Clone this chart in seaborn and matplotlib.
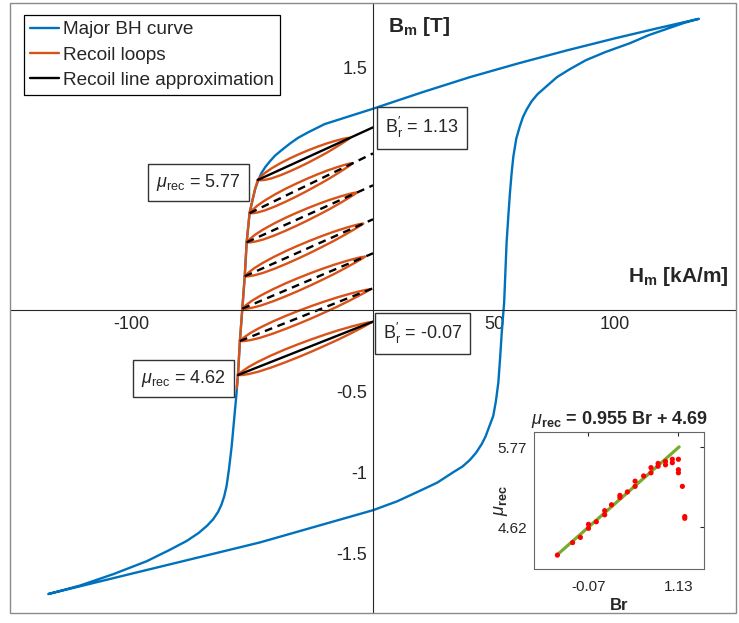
import numpy as np
import pandas as pd
import matplotlib
matplotlib.use("Agg")
import matplotlib.pyplot as plt
import seaborn as sns
from matplotlib.lines import Line2D
from matplotlib.patches import Rectangle

# ---------------- data ----------------
# Major BH curve, descending branch (from +saturation)
desc_H = [134.5, 117.0, 100.0, 80.0, 60.0, 40.0, 20.0, 0.0, -9.5, -20.0, -26.7, -31.0,
          -34.3, -37.7, -40.5, -42.6, -44.5, -46.2, -47.5, -48.7, -49.8, -51.0, -52.2,
          -53.0, -54.0, -55.0, -55.8, -56.5, -57.3, -58.4, -59.5, -60.5, -61.5, -62.6,
          -64.0, -66.0, -68.5, -72.0, -77.0, -84.0, -93.5, -107.3, -121.0, -134.2]
desc_B = [1.80, 1.74, 1.68, 1.605, 1.525, 1.44, 1.345, 1.245, 1.20, 1.15, 1.10, 1.065,
          1.03, 0.99, 0.955, 0.92, 0.885, 0.845, 0.80, 0.75, 0.68, 0.60, 0.42,
          0.21, 0.01, -0.19, -0.40, -0.53, -0.66, -0.84, -0.98, -1.085, -1.15, -1.20,
          -1.245, -1.29, -1.33, -1.375, -1.425, -1.48, -1.55, -1.63, -1.70, -1.753]
# Major BH curve, ascending branch (from -saturation)
asc_H = [-134.2, -100.0, -46.7, 0.0, 10.0, 19.4, 26.5, 33.2, 37.0, 40.0, 42.6, 44.9,
         46.5, 48.0, 49.7, 50.8, 51.8, 52.5, 53.2, 54.2, 55.2, 56.0, 56.6, 57.3, 58.0,
         59.2, 60.7, 62.0, 63.5, 65.5, 68.0, 71.8, 76.0, 81.4, 88.0, 96.0, 106.2, 114.0,
         122.7, 128.5, 134.5]
asc_B = [-1.753, -1.628, -1.434, -1.235, -1.18, -1.115, -1.065, -1.0, -0.965, -0.925,
         -0.88, -0.827, -0.78, -0.72, -0.652, -0.56, -0.446, -0.30, -0.138, 0.05, 0.418,
         0.60, 0.727, 0.85, 0.95, 1.06, 1.138, 1.195, 1.24, 1.29, 1.335, 1.385, 1.44,
         1.49, 1.545, 1.595, 1.65, 1.70, 1.745, 1.775, 1.80]

# Recoil loops: start point on the major curve, B at H=0 (B'r), loop tip H
loop_HL = [-47.6, -51.0, -52.2, -53.0, -54.0, -55.0, -55.8]
loop_BL = [0.805, 0.60, 0.42, 0.21, 0.01, -0.19, -0.40]
loop_Br = [1.13, 0.969, 0.772, 0.562, 0.352, 0.136, -0.07]
loop_Htip = [-9.5, -8.3, -6.6, -4.0, -3.3, -1.2, -0.5]
line_dashed = [False, True, True, True, True, True, False]
# lens profile of the loops (fraction along loop, upper / lower offsets in T)
prof_t = [0, 0.03, 0.08, 0.15, 0.25, 0.35, 0.45, 0.55, 0.65, 0.75, 0.85, 0.92, 0.97, 1.0]
prof_up = [0, 0.012, 0.024, 0.033, 0.040, 0.043, 0.043, 0.041, 0.037, 0.031, 0.022, 0.014, 0.007, 0]
prof_lo = [0, 0.010, 0.020, 0.029, 0.035, 0.037, 0.037, 0.035, 0.031, 0.026, 0.018, 0.011, 0.005, 0]
# orange trace along the major curve between the loops
trace_H = [-47.6, -48.7, -49.8, -51.0, -52.2, -53.0, -54.0, -55.0, -55.8, -56.3]
trace_B = [0.805, 0.75, 0.68, 0.60, 0.42, 0.21, 0.01, -0.19, -0.40, -0.48]

# Inset: mu_rec vs Br
ins_Br = [-0.485, -0.282, -0.178, -0.07, -0.07, 0.034, 0.146, 0.146, 0.237, 0.349, 0.349,
          0.449, 0.552, 0.552, 0.666, 0.764, 0.764, 0.859, 0.859, 0.958, 0.958, 1.049,
          1.049, 1.13, 1.13, 1.13, 1.183, 1.215, 1.215]
ins_mu = [4.22, 4.40, 4.475, 4.606, 4.663, 4.70, 4.80, 4.86, 4.945, 5.05, 5.08,
          5.13, 5.21, 5.285, 5.36, 5.405, 5.48, 5.50, 5.54, 5.52, 5.57, 5.55,
          5.60, 5.60, 5.45, 5.405, 5.21, 4.775, 4.75]
fit_slope, fit_icpt = 0.955, 4.69
fit_Br = [-0.485, 1.14]

main_xticks = [-100, 50, 100]
main_yticks = [-1.5, -1, -0.5, 1.5]
ins_xticks = [-0.07, 1.13]
ins_yticks = [4.62, 5.77]

BLUE = "#0072BD"
ORANGE = "#D95319"
GREEN = "#77AC30"
TXT = "#262626"

# ---------------- style ----------------
sns.set_theme(style="white")
plt.rcParams["font.family"] = ["Liberation Sans", "DejaVu Sans"]
plt.rcParams["mathtext.fontset"] = "custom"
plt.rcParams["mathtext.rm"] = "Liberation Sans"
plt.rcParams["mathtext.it"] = "Liberation Sans:italic"
plt.rcParams["mathtext.bf"] = "Liberation Sans:bold"
plt.rcParams["mathtext.sf"] = "Liberation Sans"
plt.rcParams["axes.unicode_minus"] = False

fig = plt.figure(figsize=(7.39, 6.23), dpi=100)
ax = fig.add_axes([10 / 739, 1 - 613 / 623, 726 / 739, (613 - 2.7) / 623])
ax.set_xlim(-150, 150)
ax.set_ylim(-1.87, 1.90)

# major curve (closed hysteresis loop)
major = pd.DataFrame({"H": desc_H + asc_H, "B": desc_B + asc_B})
sns.lineplot(data=major, x="H", y="B", sort=False, estimator=None, color=BLUE,
             lw=1.7, ax=ax)

# recoil loops
t = np.array(prof_t)
for i in range(len(loop_HL)):
    HL, BL, Br, Ht = loop_HL[i], loop_BL[i], loop_Br[i], loop_Htip[i]
    slope = (Br - BL) / (0 - HL)
    Hs = HL + t * (Ht - HL)
    Bline = BL + slope * (Hs - HL)
    upper = Bline + np.array(prof_up)
    lower = Bline - np.array(prof_lo)
    lh = np.concatenate([Hs, Hs[::-1]])
    lb = np.concatenate([upper, lower[::-1]])
    sns.lineplot(x=lh, y=lb, sort=False, estimator=None, color=ORANGE, lw=1.7, ax=ax)
sns.lineplot(x=trace_H, y=trace_B, sort=False, estimator=None, color=ORANGE, lw=1.7, ax=ax)

# recoil line approximations
for i in range(len(loop_HL)):
    ls = (0, (3.3, 2.4)) if line_dashed[i] else "-"
    sns.lineplot(x=[loop_HL[i], 0.0], y=[loop_BL[i], loop_Br[i]], sort=False,
                 estimator=None, color="black", lw=1.7, linestyle=ls, ax=ax)

# axes through origin
for s in ["top", "right"]:
    ax.spines[s].set_visible(False)
ax.spines["left"].set_position(("data", 0))
ax.spines["bottom"].set_position(("data", 0))
for s in ["left", "bottom"]:
    ax.spines[s].set_color(TXT)
    ax.spines[s].set_linewidth(0.8)
ax.add_patch(Rectangle((0, 0), 1, 1, transform=ax.transAxes, fill=False,
                       ec="#8a8a8a", lw=1.0, zorder=5, clip_on=False))
ax.set_xticks(main_xticks)
ax.set_xticklabels([str(v) for v in main_xticks])
ax.set_yticks(main_yticks)
ax.set_yticklabels(["-1.5", "-1", "-0.5", "1.5"])
ax.tick_params(direction="in", length=5, width=0.8, pad=4, labelsize=13,
               colors=TXT)
ax.set_xlabel("")
ax.set_ylabel("")

ax.text(6.2, 1.72, r"$\mathbf{B}_\mathbf{m}$ [T]", fontsize=15, fontweight="bold",
        color=TXT, ha="left", va="baseline")
ax.text(105.4, 0.176, r"$\mathbf{H}_\mathbf{m}$ [kA/m]", fontsize=15, fontweight="bold",
        color=TXT, ha="left", va="baseline")

box = dict(boxstyle="square,pad=0.45", fc="white", ec="#333333", lw=1.0)
ax.text(-72.3, 0.79, r"$\mu_{\mathrm{rec}}$ = 5.77", fontsize=13, color=TXT,
        ha="center", va="center", bbox=box, zorder=6)
ax.text(-78.3, -0.423, r"$\mu_{\mathrm{rec}}$ = 4.62", fontsize=13, color=TXT,
        ha="center", va="center", bbox=box, zorder=6)
ax.text(20.2, 1.127, r"$\mathrm{B}_{\mathrm{r}}^{\prime}$ = 1.13", fontsize=13, color=TXT,
        ha="center", va="center", bbox=box, zorder=6)
ax.text(20.5, -0.145, r"$\mathrm{B}_{\mathrm{r}}^{\prime}$ = -0.07", fontsize=13, color=TXT,
        ha="center", va="center", bbox=box, zorder=6)

handles = [Line2D([], [], color=BLUE, lw=1.7), Line2D([], [], color=ORANGE, lw=1.7),
           Line2D([], [], color="black", lw=1.7)]
leg = ax.legend(handles, ["Major BH curve", "Recoil loops", "Recoil line approximation"],
                loc="upper left", bbox_to_anchor=(0.0187, 0.9798), borderaxespad=0,
                fontsize=13.7, handlelength=1.55, handletextpad=0.2, borderpad=0.32,
                labelspacing=0.42, frameon=True, fancybox=False, framealpha=1)
leg.get_frame().set_edgecolor("black")
leg.get_frame().set_linewidth(0.9)
leg.set_zorder(7)

# ---------------- inset ----------------
ia = fig.add_axes([533.8 / 739, 1 - 569 / 623, 170.6 / 739, 136.8 / 623])
ia.set_facecolor("white")
sns.lineplot(x=fit_Br, y=[fit_slope * b + fit_icpt for b in fit_Br], color=GREEN,
             lw=2.3, ax=ia, zorder=2)
sns.scatterplot(x=ins_Br, y=ins_mu, color="red", s=14, edgecolor="none", ax=ia, zorder=3)
ia.set_xlim(-0.8, 1.477)
ia.set_ylim(4.02, 5.99)
ia.set_xticks(ins_xticks)
ia.set_xticklabels(["-0.07", "1.13"])
ia.set_yticks(ins_yticks)
ia.set_yticklabels(["4.62", "5.77"])
ia.tick_params(direction="in", top=True, right=True, length=3, width=0.8,
               labelsize=11, colors=TXT)
ia.tick_params(axis="x", pad=8)
ia.tick_params(axis="y", pad=5)
for s in ia.spines.values():
    s.set_color("#666666")
    s.set_linewidth(0.8)
ia.set_title(r"$\mu_{\mathbf{rec}}$ = 0.955 Br + 4.69", fontsize=13, fontweight="bold",
             color=TXT, pad=6)
ia.set_xlabel("Br", fontsize=12, fontweight="bold", color=TXT, labelpad=3)
ia.set_ylabel(r"$\mu_{\mathbf{rec}}$", fontsize=13, fontweight="bold", color=TXT)
ia.yaxis.set_label_coords(-0.14, 0.5)

fig.savefig("out.png", dpi=100)
